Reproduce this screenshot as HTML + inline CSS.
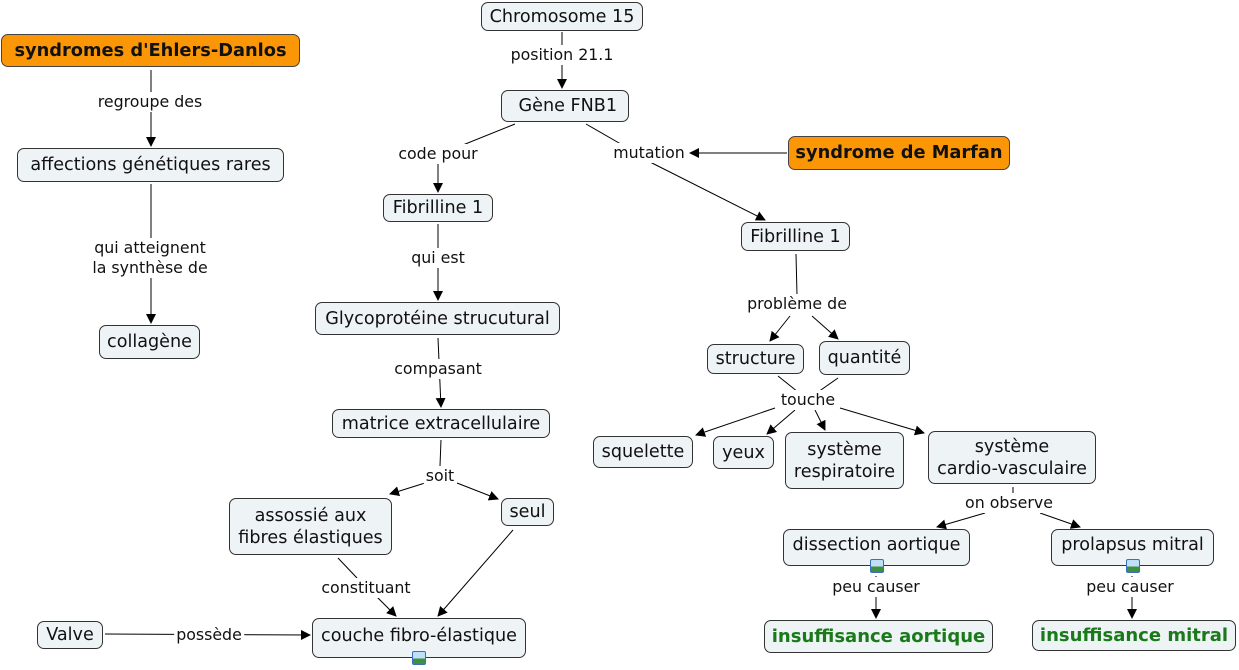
<!DOCTYPE html>
<html><head><meta charset="utf-8"><style>
body{margin:0;width:1239px;height:670px;background:#fff;position:relative;overflow:hidden;font-family:"DejaVu Sans","Liberation Sans",sans-serif;}
.n{position:absolute;box-sizing:border-box;border:1px solid #333;border-radius:7px;background:#eef3f5;display:flex;align-items:center;justify-content:center;text-align:center;font-size:17.6px;color:#111;line-height:22px;white-space:nowrap}
.o{background:#fb9706;font-weight:bold;border-color:#444;font-size:17.8px}
.g{color:#1a7a1a;font-weight:bold;font-size:18px}
.l{position:absolute;font-size:15.8px;color:#111;background:#fff;transform:translate(-50%,-50%);white-space:nowrap;text-align:center;line-height:20px;padding:0 2px}
.ic{position:absolute;width:14px;height:14px;box-sizing:border-box;border:1px solid #3a6fc0;background:linear-gradient(#bfe0f7 55%,#3f8f3f 55%);border-radius:2px}
svg{position:absolute;left:0;top:0}
</style></head><body>
<svg width="1239" height="670">
<defs><marker id="a" markerWidth="10" markerHeight="10" refX="9" refY="5" orient="auto" markerUnits="userSpaceOnUse"><path d="M0,0 L10,5 L0,10 z" fill="#000"/></marker></defs>
<g stroke="#000" stroke-width="1" fill="none">
<line x1="562" y1="32" x2="562" y2="88" marker-end="url(#a)"/>
<line x1="151" y1="70" x2="151" y2="146" marker-end="url(#a)"/>
<line x1="151" y1="184" x2="151" y2="323" marker-end="url(#a)"/>
<line x1="515" y1="124" x2="438" y2="155"/>
<line x1="438" y1="160" x2="438" y2="192" marker-end="url(#a)"/>
<line x1="586" y1="124" x2="626" y2="147"/>
<line x1="787" y1="153" x2="690" y2="153" marker-end="url(#a)"/>
<line x1="650" y1="162" x2="765" y2="220" marker-end="url(#a)"/>
<line x1="438" y1="224" x2="438" y2="300" marker-end="url(#a)"/>
<line x1="796" y1="254" x2="797" y2="295"/>
<line x1="790" y1="316" x2="770" y2="341" marker-end="url(#a)"/>
<line x1="812" y1="316" x2="838" y2="339" marker-end="url(#a)"/>
<line x1="438" y1="338" x2="441" y2="407" marker-end="url(#a)"/>
<line x1="778" y1="376" x2="798" y2="392"/>
<line x1="838" y1="378" x2="818" y2="392"/>
<line x1="775" y1="408" x2="696" y2="435" marker-end="url(#a)"/>
<line x1="795" y1="410" x2="767" y2="434" marker-end="url(#a)"/>
<line x1="815" y1="410" x2="825" y2="430" marker-end="url(#a)"/>
<line x1="840" y1="408" x2="924" y2="433" marker-end="url(#a)"/>
<line x1="441" y1="440" x2="440" y2="466"/>
<line x1="425" y1="483" x2="390" y2="494" marker-end="url(#a)"/>
<line x1="457" y1="483" x2="498" y2="499" marker-end="url(#a)"/>
<line x1="1013" y1="487" x2="1013" y2="495"/>
<line x1="985" y1="513" x2="937" y2="527" marker-end="url(#a)"/>
<line x1="1040" y1="513" x2="1080" y2="527" marker-end="url(#a)"/>
<line x1="338" y1="558" x2="357" y2="578"/>
<line x1="376" y1="596" x2="396" y2="616" marker-end="url(#a)"/>
<line x1="513" y1="530" x2="438" y2="616" marker-end="url(#a)"/>
<line x1="105" y1="634" x2="310" y2="635" marker-end="url(#a)"/>
<line x1="876" y1="576" x2="876" y2="618" marker-end="url(#a)"/>
<line x1="1132" y1="576" x2="1132" y2="618" marker-end="url(#a)"/>
</g></svg>
<div class="n" style="left:481px;top:2px;width:162px;height:29px">Chromosome 15</div>
<div class="n o" style="left:1px;top:34px;width:299px;height:33px">syndromes d'Ehlers-Danlos</div>
<div class="n" style="left:501px;top:90px;width:128px;height:32px">&nbsp;Gène FNB1</div>
<div class="n" style="left:17px;top:148px;width:267px;height:34px">affections génétiques rares</div>
<div class="n o" style="left:788px;top:136px;width:222px;height:34px">syndrome de Marfan</div>
<div class="n" style="left:383px;top:194px;width:110px;height:28px">Fibrilline 1</div>
<div class="n" style="left:741px;top:222px;width:109px;height:29px">Fibrilline 1</div>
<div class="n" style="left:315px;top:302px;width:245px;height:33px">Glycoprotéine strucutural</div>
<div class="n" style="left:99px;top:325px;width:101px;height:34px">collagène</div>
<div class="n" style="left:707px;top:344px;width:97px;height:30px">structure</div>
<div class="n" style="left:819px;top:341px;width:91px;height:34px">quantité</div>
<div class="n" style="left:332px;top:409px;width:218px;height:29px">matrice extracellulaire</div>
<div class="n" style="left:593px;top:436px;width:100px;height:32px">squelette</div>
<div class="n" style="left:713px;top:436px;width:61px;height:33px">yeux</div>
<div class="n" style="left:785px;top:432px;width:119px;height:57px">système<br>respiratoire</div>
<div class="n" style="left:928px;top:431px;width:168px;height:53px">système<br>cardio-vasculaire</div>
<div class="n" style="left:229px;top:498px;width:163px;height:57px">assossié aux<br>fibres élastiques</div>
<div class="n" style="left:501px;top:498px;width:53px;height:28px">seul</div>
<div class="n" style="left:783px;top:529px;width:187px;height:37px;align-items:flex-start;padding-top:4px">dissection aortique</div>
<div class="n" style="left:1051px;top:529px;width:163px;height:37px;align-items:flex-start;padding-top:4px">prolapsus mitral</div>
<div class="n" style="left:37px;top:621px;width:66px;height:28px">Valve</div>
<div class="n" style="left:312px;top:618px;width:214px;height:40px;align-items:flex-start;padding-top:6px">couche fibro-élastique</div>
<div class="n g" style="left:764px;top:620px;width:229px;height:33px">insuffisance aortique</div>
<div class="n g" style="left:1032px;top:620px;width:204px;height:31px">insuffisance mitral</div>
<div class="ic" style="left:870px;top:559px"></div>
<div class="ic" style="left:1126px;top:559px"></div>
<div class="ic" style="left:412px;top:651px"></div>
<div class="l" style="left:562px;top:55px">position 21.1</div>
<div class="l" style="left:150px;top:102px">regroupe des</div>
<div class="l" style="left:438px;top:154px">code pour</div>
<div class="l" style="left:649px;top:153px">mutation</div>
<div class="l" style="left:150px;top:258px">qui atteignent<br>la synthèse de</div>
<div class="l" style="left:438px;top:258px">qui est</div>
<div class="l" style="left:797px;top:304px">problème de</div>
<div class="l" style="left:438px;top:369px">compasant</div>
<div class="l" style="left:808px;top:400px">touche</div>
<div class="l" style="left:440px;top:476px">soit</div>
<div class="l" style="left:1009px;top:503px">on observe</div>
<div class="l" style="left:366px;top:588px">constituant</div>
<div class="l" style="left:209px;top:635px">possède</div>
<div class="l" style="left:876px;top:587px">peu causer</div>
<div class="l" style="left:1130px;top:587px">peu causer</div>
</body></html>
